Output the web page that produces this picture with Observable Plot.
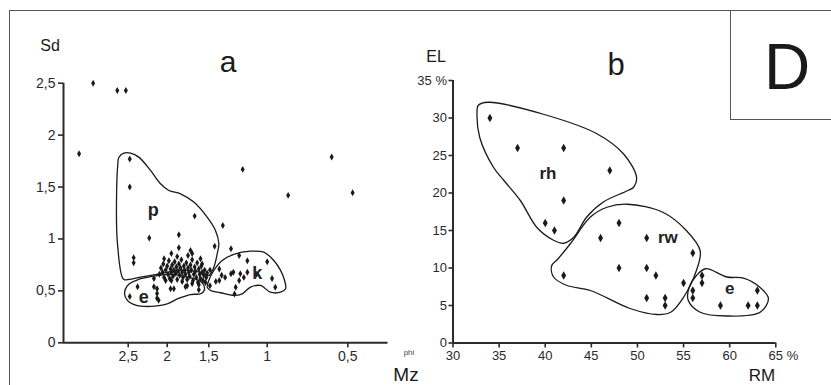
<!DOCTYPE html>
<html>
<head>
<meta charset="utf-8">
<script src="https://cdn.jsdelivr.net/npm/d3@7"></script>
<script src="https://cdn.jsdelivr.net/npm/@observablehq/plot@0.6"></script>
<style>
  body { margin: 0; background: #fff; }
  #fig { position: relative; width: 831px; height: 385px; overflow: hidden; background: #fff;
         font-family: "Liberation Sans", Arial, sans-serif; color: #1a1a1a; }
  #frame { position: absolute; left: 9px; top: 10px; width: 900px; height: 500px; border: 1.5px solid #555; }
  #tag { position: absolute; left: 730px; top: 10px; width: 200px; height: 108px; border: 1.5px solid #555; }
  .lbl { position: absolute; white-space: nowrap; line-height: 1; transform: translate(-50%, -50%); }
  #fig svg { position: absolute; left: 0; top: 0; }
</style>
</head>
<body>
<div id="fig">
  <div id="frame"></div>
  <div id="tag"></div>
  <div class="lbl" style="left:787px;top:67px;font-size:64px;">D</div>
  <div class="lbl" style="left:50px;top:46px;font-size:16px;">Sd</div>
  <div class="lbl" style="left:228px;top:62px;font-size:30px;">a</div>
  <div class="lbl" style="left:406px;top:374px;font-size:19px;">Mz</div>
  <div class="lbl" style="left:409px;top:353px;font-size:8px;color:#444;">phi</div>
  <div class="lbl" style="left:436px;top:57px;font-size:16px;">EL</div>
  <div class="lbl" style="left:616px;top:64px;font-size:31px;">b</div>
  <div class="lbl" style="left:762px;top:375px;font-size:17px;">RM</div>
</div>
<script>
// ---- Panel a: sorting (Sd) against mean grain size (Mz, phi) ----
// the phi axis is stretched unevenly: breakpoints of the piecewise scale,
// from the left end of the axis to its right end
const phiDomain = [3.33, 2.5, 2, 1.5, 1, 0.5, 0.25];
const phiTicks = [2.5, 2, 1.5, 1, 0.5];
const sdTicks = [0, 0.5, 1, 1.5, 2, 2.5];

// individual samples [Mz (phi), Sd]
const samplesA = [
  [2.95, 2.50], [2.64, 2.43], [2.53, 2.43], [3.13, 1.82], [2.48, 1.77], [2.48, 1.50],
  [1.21, 1.67], [0.87, 1.42], [0.60, 1.79], [0.47, 1.445],
  [1.67, 1.22], [1.38, 1.13], [2.23, 1.01], [1.86, 1.04], [1.45, 0.93], [1.31, 0.905],
  [2.43, 0.82], [2.43, 0.77], [1.24, 0.84], [1.17, 0.79], [1.00, 0.78],
  [1.86, 0.915], [1.72, 0.89], [1.70, 0.86], [1.95, 0.86], [2.04, 0.81], [1.60, 0.81], [1.58, 0.76],
  [2.17, 0.62], [2.02, 0.60], [1.82, 0.59], [1.78, 0.54], [1.62, 0.51],
  [2.13, 0.52], [2.13, 0.475], [2.13, 0.43], [1.96, 0.52], [1.92, 0.52], [1.44, 0.59],
  [2.48, 0.446], [2.38, 0.54], [2.17, 0.54], [2.11, 0.41], [1.76, 0.55],
  [1.41, 0.71], [1.39, 0.65], [1.36, 0.63], [1.31, 0.665], [1.29, 0.68], [1.23, 0.665],
  [1.20, 0.63], [1.17, 0.68], [1.24, 0.60], [1.41, 0.60], [1.49, 0.55], [1.27, 0.535],
  [1.28, 0.47], [0.97, 0.62], [0.95, 0.535], [1.09, 0.66], [1.49, 0.70],
  [2.10, 0.66], [2.08, 0.72], [2.06, 0.68], [2.05, 0.76], [2.04, 0.63], [2.02, 0.70],
  [2.00, 0.74], [1.99, 0.66], [1.98, 0.79], [1.97, 0.62], [1.96, 0.71], [1.95, 0.68],
  [1.94, 0.75], [1.93, 0.64], [1.92, 0.70], [1.91, 0.78], [1.90, 0.67], [1.89, 0.73],
  [1.88, 0.61], [1.87, 0.69], [1.86, 0.76], [1.85, 0.65], [1.84, 0.72], [1.83, 0.80],
  [1.82, 0.68], [1.81, 0.63], [1.80, 0.74], [1.79, 0.70], [1.78, 0.66], [1.77, 0.77],
  [1.76, 0.61], [1.75, 0.72], [1.74, 0.68], [1.73, 0.64], [1.72, 0.75], [1.71, 0.70],
  [1.70, 0.80], [1.69, 0.60], [1.68, 0.66], [1.67, 0.73], [1.66, 0.69], [1.65, 0.63],
  [1.64, 0.77], [1.63, 0.58], [1.62, 0.71], [1.61, 0.66], [1.60, 0.62], [1.59, 0.74],
  [1.58, 0.68], [1.57, 0.60], [1.56, 0.65], [1.55, 0.70], [1.54, 0.58], [1.53, 0.63],
  [1.52, 0.67], [1.88, 0.83], [1.75, 0.84], [1.95, 0.60], [1.70, 0.57], [1.62, 0.56]
];

// field outlines, panel a
const zoneP = [
  [2.556, 1.827], [2.47, 1.827], [2.364, 1.788], [2.214, 1.66], [2.086, 1.532], [1.98, 1.467],
  [1.84, 1.435], [1.68, 1.355], [1.52, 1.21], [1.443, 1.082], [1.414, 0.954], [1.428, 0.857],
  [1.457, 0.728], [1.50, 0.648], [1.60, 0.68], [1.84, 0.697], [2.086, 0.665], [2.342, 0.632],
  [2.547, 0.607], [2.577, 0.632], [2.641, 0.986], [2.65, 1.371], [2.633, 1.724], [2.62, 1.785]
];
const zoneE = [
  [2.547, 0.475], [2.496, 0.562], [2.368, 0.61], [2.189, 0.639], [1.984, 0.658], [1.78, 0.639],
  [1.60, 0.591], [1.55, 0.523], [1.59, 0.475], [1.72, 0.465], [1.864, 0.427], [2.022, 0.369],
  [2.214, 0.35], [2.394, 0.36], [2.509, 0.407]
];
const zoneK = [
  [1.519, 0.536], [1.50, 0.60], [1.457, 0.697], [1.385, 0.793], [1.286, 0.851], [1.143, 0.882],
  [1.029, 0.873], [0.959, 0.793], [0.917, 0.697], [0.892, 0.60], [0.886, 0.52], [0.917, 0.487],
  [0.98, 0.487], [1.057, 0.552], [1.143, 0.536], [1.214, 0.472], [1.286, 0.456], [1.40, 0.482],
  [1.485, 0.504]
];
const zoneNamesA = [
  {name: "p", phi: 2.18, sd: 1.275},
  {name: "e", phi: 2.30, sd: 0.436},
  {name: "k", phi: 1.086, sd: 0.668}
];

// ---- Panel b: EL against RM (%) ----
const rmTicks = [30, 35, 40, 45, 50, 55, 60, 65];
const elTicks = [0, 5, 10, 15, 20, 25, 30, 35];
const samplesB = [
  [34, 30], [37, 26], [42, 26], [47, 23], [42, 19], [40, 16], [41, 15],
  [46, 14], [48, 16], [51, 14], [56, 12], [42, 9], [48, 10], [51, 10], [52, 9],
  [55, 8], [51, 6], [53, 6], [53, 5], [56, 7], [56, 6], [57, 9], [57, 8],
  [59, 5], [62, 5], [63, 5], [63, 7]
];
const zoneRH = [
  [32.75, 31.7], [33.8, 32.1], [39.8, 30.5], [45.6, 27.9], [48.5, 25.2], [49.9, 22.1],
  [49.6, 20.8], [48.9, 20.3], [46.3, 18.8], [44.5, 16.8], [43.1, 14.1], [42.0, 13.3],
  [40.9, 13.7], [39.1, 15.4], [37.3, 19.0], [35.5, 21.7], [34.4, 23.4], [32.9, 27.4], [32.6, 30.6]
];
const zoneRW = [
  [48.9, 18.5], [52.8, 17.4], [55.3, 15.0], [56.8, 12.3], [56.4, 9.7], [55.0, 6.1],
  [53.6, 4.1], [52.1, 3.8], [49.2, 4.6], [44.9, 7.0], [42.3, 7.7], [40.9, 8.8],
  [40.7, 10.3], [41.3, 11.1], [42.7, 13.2], [44.9, 16.8], [46.7, 18.1]
];
const zoneEB = [
  [57.4, 9.9], [59.7, 8.8], [61.5, 8.65], [63.3, 7.4], [64.2, 5.9], [63.3, 4.1],
  [59.7, 3.6], [56.8, 4.1], [55.5, 5.7], [55.6, 7.4], [56.4, 9.0]
];
const zoneNamesB = [
  {name: "rh", rm: 40.3, el: 22.6},
  {name: "rw", rm: 53.3, el: 14.1},
  {name: "e", rm: 60.0, el: 7.2}
];

const comma = d => String(d).replace(".", ",");
const ink = "#1a1a1a";
const axisInk = "#2a2a2a";
const outline = (pts) => Plot.line(pts, {
  x: d => d[0], y: d => d[1], curve: "catmull-rom-closed", stroke: ink, strokeWidth: 1.3
});

const W = 831, H = 385;

const chartA = Plot.plot({
  width: W, height: H,
  marginLeft: 63, marginRight: W - 387.5, marginTop: 82.7, marginBottom: H - 342.3,
  x: {type: "linear", domain: phiDomain, range: [63, 127.7, 166.7, 208.3, 266.7, 347.3, 387.5]},
  y: {domain: [0, 2.5]},
  style: {background: "transparent", fontFamily: "'Liberation Sans', Arial, sans-serif", fontSize: "14px", color: axisInk, overflow: "visible"},
  marks: [
    Plot.axisY({ticks: sdTicks, tickFormat: comma, tickSize: 5, tickPadding: 3, label: null, strokeWidth: 1.6}),
    Plot.axisX({ticks: phiTicks, tickFormat: comma, tickSize: 5, tickPadding: 3, label: null, strokeWidth: 1.6}),
    Plot.ruleX([phiDomain[0]], {y1: 0, y2: 2.5, stroke: axisInk, strokeWidth: 2}),
    Plot.ruleY([0], {x1: phiDomain[0], x2: phiDomain[phiDomain.length - 1], stroke: axisInk, strokeWidth: 2}),
    outline(zoneP), outline(zoneE), outline(zoneK),
    Plot.dot(samplesA, {x: d => d[0], y: d => d[1], symbol: "diamond", r: 2.1, fill: ink, stroke: "none"}),
    Plot.text(zoneNamesA, {x: "phi", y: "sd", text: "name", fontSize: 18, fontWeight: "bold", fill: "#222"})
  ]
});

const chartB = Plot.plot({
  width: W, height: H,
  marginLeft: 452.5, marginRight: W - 775.3, marginTop: 80, marginBottom: H - 342.5,
  x: {domain: [30, 65]},
  y: {domain: [0, 35]},
  style: {background: "transparent", fontFamily: "'Liberation Sans Narrow', 'Liberation Sans', Arial, sans-serif", fontSize: "13px", color: axisInk, overflow: "visible"},
  marks: [
    Plot.axisY({ticks: elTicks, tickFormat: d => d === 35 ? "35 %" : String(d), tickSize: 4, tickPadding: 2, label: null, strokeWidth: 1.6}),
    Plot.axisX({ticks: rmTicks, tickSize: 5, tickPadding: 3, label: null, strokeWidth: 1.6}),
    Plot.ruleX([30], {y1: 0, y2: 35, stroke: axisInk, strokeWidth: 2}),
    Plot.ruleY([0], {x1: 30, x2: 65, stroke: axisInk, strokeWidth: 2}),
    Plot.text(["%"], {x: 65, y: 0, text: d => d, dx: 11, dy: 8, lineAnchor: "top", textAnchor: "start", fill: axisInk}),
    outline(zoneRH), outline(zoneRW), outline(zoneEB),
    Plot.dot(samplesB, {x: d => d[0], y: d => d[1], symbol: "diamond", r: 2.6, fill: ink, stroke: "none"}),
    Plot.text(zoneNamesB, {x: "rm", y: "el", text: "name", fontSize: 17, fontWeight: "bold", fill: "#222",
      fontFamily: "'Liberation Sans', Arial, sans-serif"})
  ]
});

const fig = document.getElementById("fig");
fig.appendChild(chartA);
fig.appendChild(chartB);
</script>
</body>
</html>
